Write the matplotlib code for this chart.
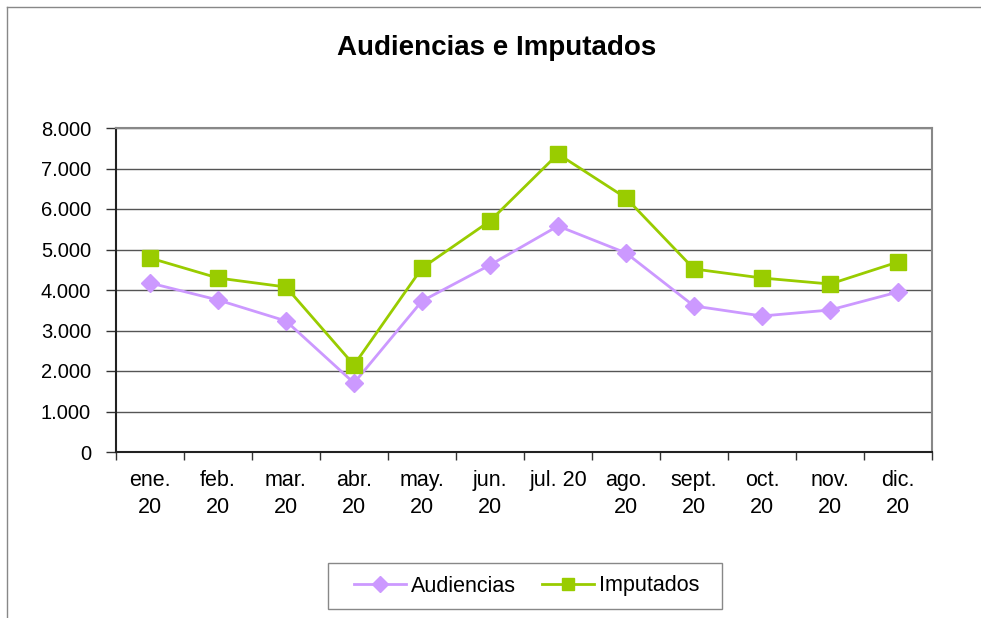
import matplotlib
matplotlib.use("Agg")
import matplotlib.pyplot as plt
from matplotlib.ticker import FuncFormatter, FixedLocator
from matplotlib.patches import Rectangle
from matplotlib.lines import Line2D

categories = ["ene.\n20", "feb.\n20", "mar.\n20", "abr.\n20", "may.\n20", "jun.\n20",
              "jul. 20", "ago.\n20", "sept.\n20", "oct.\n20", "nov.\n20", "dic.\n20"]
audiencias = [4173, 3753, 3235, 1704, 3728, 4617, 5580, 4914, 3605, 3358, 3506, 3951]
imputados = [4790, 4296, 4074, 2148, 4543, 5704, 7358, 6272, 4519, 4296, 4148, 4691]
yticks = [0, 1000, 2000, 3000, 4000, 5000, 6000, 7000, 8000]

plt.rcParams['font.family'] = ['Liberation Sans', 'DejaVu Sans']

W, H = 981, 618
fig = plt.figure(figsize=(W / 100, H / 100), dpi=100)
ax = fig.add_axes([116 / W, 1 - 452 / H, (932 - 116) / W, (452 - 128) / H])

x = list(range(len(categories)))
ax.plot(x, audiencias, color="#CC99FF", lw=2, marker="D", ms=9, mec="#CC99FF", mfc="#CC99FF", zorder=3)
ax.plot(x, imputados, color="#99CC00", lw=2, marker="s", ms=11, mec="#99CC00", mfc="#99CC00", zorder=4)

ax.set_xlim(-0.5, len(categories) - 0.5)
ax.set_ylim(0, 8000)
ax.set_yticks(yticks)
ax.yaxis.set_major_formatter(FuncFormatter(lambda v, p: f"{int(v):,}".replace(",", ".")))
ax.yaxis.grid(True, color="#555555", lw=1)
ax.set_axisbelow(True)

ax.xaxis.set_major_locator(FixedLocator([i - 0.5 for i in range(len(categories) + 1)]))
ax.xaxis.set_minor_locator(FixedLocator(x))
ax.set_xticklabels([])
ax.set_xticklabels(categories, minor=True, linespacing=1.35)
ax.tick_params(axis="x", which="major", length=6, width=1, color="#333333", direction="out")
ax.tick_params(axis="x", which="minor", length=0, labelsize=15.5, pad=13)
ax.tick_params(axis="y", length=7, width=1, color="#333333", labelsize=14.5, pad=11)

for s in ["left", "bottom"]:
    ax.spines[s].set_color("#222222")
    ax.spines[s].set_linewidth(1.5)
for s in ["top", "right"]:
    ax.spines[s].set_color("#888888")
    ax.spines[s].set_linewidth(1.5)

fig.text(497 / W, 1 - 48 / H, "Audiencias e Imputados", ha="center", va="center",
         fontsize=20, fontweight="bold")

# figure border (top & left)
fig.add_artist(Line2D([7 / W, 1], [1 - 7 / H, 1 - 7 / H], transform=fig.transFigure, color="#888888", lw=1))
fig.add_artist(Line2D([7 / W, 7 / W], [0, 1 - 7 / H], transform=fig.transFigure, color="#888888", lw=1))

# legend frame
fig.add_artist(Rectangle((328 / W, 1 - 609 / H), (722 - 328) / W, (609 - 563) / H,
                         transform=fig.transFigure, fill=False, edgecolor="#888888", lw=1))
handles = [Line2D([], [], color="#CC99FF", lw=2, marker="D", ms=8),
           Line2D([], [], color="#99CC00", lw=2, marker="s", ms=8)]
leg = fig.legend(handles, ["Audiencias", "Imputados"], loc="center",
                 bbox_to_anchor=(527 / W, 1 - 586 / H), ncol=2, fontsize=15.5,
                 frameon=False, handlelength=2.4, columnspacing=1.2, handletextpad=0.25,
                 borderpad=0.3)

fig.savefig("out.png", dpi=100)
